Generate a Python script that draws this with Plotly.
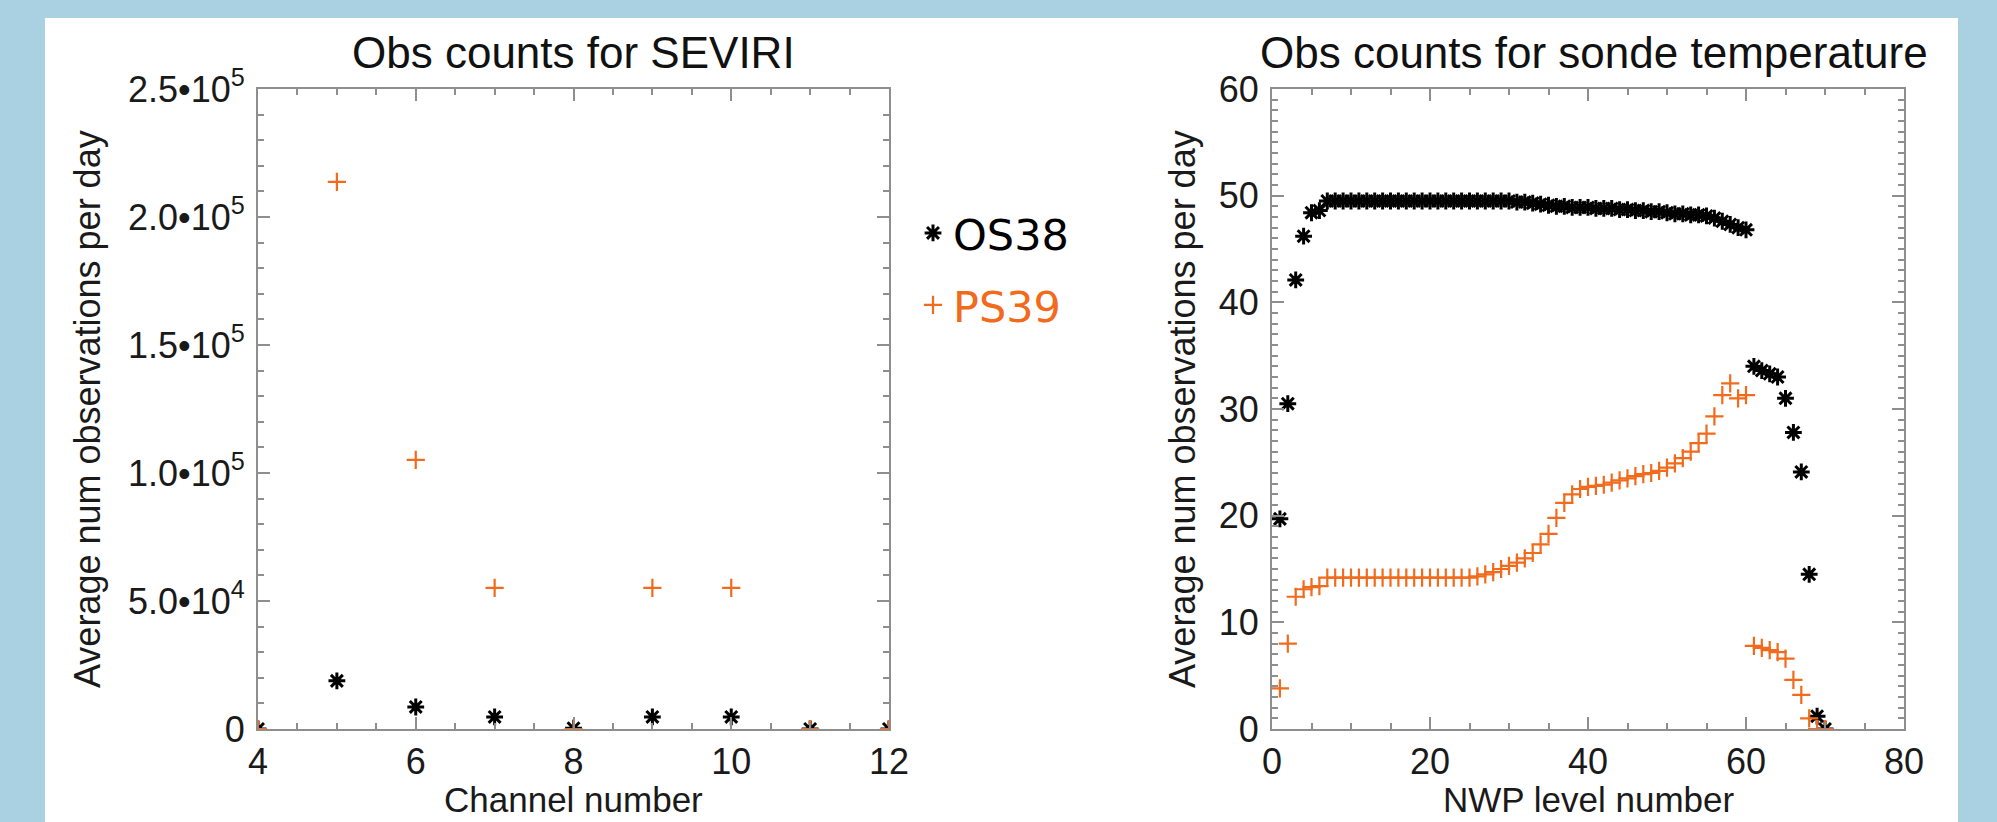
import plotly.graph_objects as go

# ---------------- data ----------------
channels = [4, 5, 6, 7, 8, 9, 10, 11, 12]
seviri_os38 = [0, 18800, 8600, 4700, 300, 4700, 4700, 0, 0]
seviri_ps39 = [0, 213700, 105100, 55100, 0, 55100, 55100, 0, 0]

seviri_tickvals = [0, 50000, 100000, 150000, 200000, 250000]
seviri_ticktext = ["0", "5.0•10<sup>4</sup>", "1.0•10<sup>5</sup>", "1.5•10<sup>5</sup>",
                   "2.0•10<sup>5</sup>", "2.5•10<sup>5</sup>"]
channel_ticks = [4, 6, 8, 10, 12]

levels = list(range(1, 71))
sonde_os38 = [19.7, 30.5, 42.1, 46.2, 48.4, 48.6, 49.5, 49.5, 49.5, 49.5,
              49.5, 49.5, 49.5, 49.5, 49.5, 49.5, 49.5, 49.5, 49.5, 49.5,
              49.5, 49.5, 49.5, 49.5, 49.5, 49.5, 49.5, 49.5, 49.5, 49.5,
              49.4, 49.4, 49.3, 49.2, 49.1, 49.0, 49.0, 48.9, 48.9, 48.9,
              48.8, 48.8, 48.8, 48.7, 48.7, 48.6, 48.6, 48.5, 48.5, 48.4,
              48.3, 48.3, 48.2, 48.2, 48.1, 47.9, 47.6, 47.3, 47.0, 46.8,
              34.0, 33.6, 33.3, 33.0, 31.0, 27.8, 24.1, 14.5, 1.2, 0.0]
sonde_ps39 = [3.8, 8.0, 12.4, 13.1, 13.3, 13.4, 14.2, 14.2, 14.2, 14.2,
              14.2, 14.2, 14.2, 14.2, 14.2, 14.2, 14.2, 14.2, 14.2, 14.2,
              14.2, 14.2, 14.2, 14.2, 14.2, 14.3, 14.5, 14.7, 15.0, 15.3,
              15.6, 16.0, 16.5, 17.3, 18.3, 19.8, 21.2, 22.0, 22.5, 22.7,
              22.8, 22.9, 23.1, 23.3, 23.5, 23.7, 23.9, 24.0, 24.2, 24.5,
              24.9, 25.4, 26.0, 26.8, 27.7, 29.3, 31.3, 32.4, 31.0, 31.3,
              7.8, 7.6, 7.4, 7.2, 6.6, 4.6, 3.2, 1.0, 0.0, 0.0]

series_names = ["OS38", "PS39"]

# ---------------- styling ----------------
W, H = 1997, 822
BLACK = "#000000"
ORANGE = "#f26a1b"
AXIS = "#8e8e8e"
FRAME = "#a9d1e2"
FONT = "Liberation Sans, Arial, sans-serif"


def px_x(p):
    return p / W


def px_y(p):
    return 1 - p / H


left_dom = [px_x(258), px_x(889)]
right_dom = [px_x(1272), px_x(1904)]
y_dom = [px_y(729), px_y(89)]

os_marker = dict(symbol="asterisk-open", size=14, color=BLACK,
                 line=dict(color=BLACK, width=3))
ps_marker = dict(symbol="cross-thin-open", size=13, color=ORANGE,
                 line=dict(color=ORANGE, width=2.2))

fig = go.Figure()
fig.add_trace(go.Scatter(x=channels, y=seviri_os38, mode="markers", marker=os_marker,
                         name=series_names[0], legendgroup="a", showlegend=True,
                         xaxis="x", yaxis="y"))
fig.add_trace(go.Scatter(x=channels, y=seviri_ps39, mode="markers", marker=ps_marker,
                         name='<span style="color:%s">%s</span>' % (ORANGE, series_names[1]),
                         legendgroup="b", showlegend=True, xaxis="x", yaxis="y"))
fig.add_trace(go.Scatter(x=levels, y=sonde_os38, mode="markers", marker=os_marker,
                         name=series_names[0], legendgroup="a", showlegend=False,
                         xaxis="x2", yaxis="y2"))
fig.add_trace(go.Scatter(x=levels, y=sonde_ps39, mode="markers", marker=ps_marker,
                         name=series_names[1], legendgroup="b", showlegend=False,
                         xaxis="x2", yaxis="y2"))

common = dict(showline=True, linecolor=AXIS, linewidth=2, mirror="allticks",
              ticks="inside", ticklen=12, tickwidth=1.5, tickcolor=AXIS,
              showgrid=False, zeroline=False, automargin=False,
              tickfont=dict(family=FONT, size=36, color="#1a1a1a"))
minor_common = dict(ticks="inside", ticklen=6, tickcolor=AXIS, tickwidth=1.5)

fig.update_layout(
    width=W, height=H,
    margin=dict(l=0, r=0, t=0, b=0, autoexpand=False),
    paper_bgcolor="#ffffff",
    plot_bgcolor="#ffffff",
    showlegend=True,
    xaxis=dict(domain=left_dom, range=[4, 12], tickvals=channel_ticks, ticklabelstandoff=0,
               minor=dict(dtick=0.5, **minor_common), anchor="y", **common),
    yaxis=dict(domain=y_dom, range=[0, 250000], tickvals=seviri_tickvals,
               ticktext=seviri_ticktext, ticklabelstandoff=4,
               minor=dict(dtick=10000, **minor_common), anchor="x", **common),
    xaxis2=dict(domain=right_dom, range=[0, 80], dtick=20, ticklabelstandoff=0,
                minor=dict(dtick=5, **minor_common), anchor="y2", **common),
    yaxis2=dict(domain=y_dom, range=[0, 60], dtick=10, ticklabelstandoff=4,
                minor=dict(dtick=1, **minor_common), anchor="x2", **common),
    legend=dict(x=px_x(913), y=px_y(269), xanchor="left", yanchor="middle",
                bgcolor="rgba(0,0,0,0)", borderwidth=0,
                font=dict(family="DejaVu Sans", size=43, color=BLACK),
                tracegroupgap=13, itemclick=False),
    shapes=[
        dict(type="rect", xref="paper", yref="paper", layer="below",
             x0=0, x1=px_x(45), y0=0, y1=1, fillcolor=FRAME, line=dict(width=0)),
        dict(type="rect", xref="paper", yref="paper", layer="below",
             x0=px_x(1958), x1=1, y0=0, y1=1, fillcolor=FRAME, line=dict(width=0)),
        dict(type="rect", xref="paper", yref="paper", layer="below",
             x0=0, x1=1, y0=px_y(18), y1=1, fillcolor=FRAME, line=dict(width=0)),
    ],
)

title_font = dict(family=FONT, size=44, color="#111111")
label_font = dict(family=FONT, size=36, color="#1a1a1a")
xlabel_font = dict(family=FONT, size=35, color="#1a1a1a")
ann = [
    dict(text="Obs counts for SEVIRI", x=px_x(573), y=px_y(53), font=title_font,
         yanchor="middle"),
    dict(text="Obs counts for sonde temperature", x=px_x(1594), y=px_y(53), font=title_font,
         yanchor="middle"),
    dict(text="Channel number", x=px_x(573), y=px_y(821), font=xlabel_font,
         yanchor="bottom"),
    dict(text="NWP level number", x=px_x(1588), y=px_y(821), font=xlabel_font,
         yanchor="bottom"),
    dict(text="Average num observations per day", x=px_x(87), y=px_y(409),
         textangle=-90, font=label_font, yanchor="middle"),
    dict(text="Average num observations per day", x=px_x(1182), y=px_y(409),
         textangle=-90, font=label_font, yanchor="middle"),
]
for a in ann:
    a.update(xref="paper", yref="paper", showarrow=False, xanchor="center")
fig.update_layout(annotations=ann)

fig.write_html("out.html",
               config={"displayModeBar": False},
               post_script="document.body.style.margin='0';"
                           "document.body.style.overflow='hidden';")
